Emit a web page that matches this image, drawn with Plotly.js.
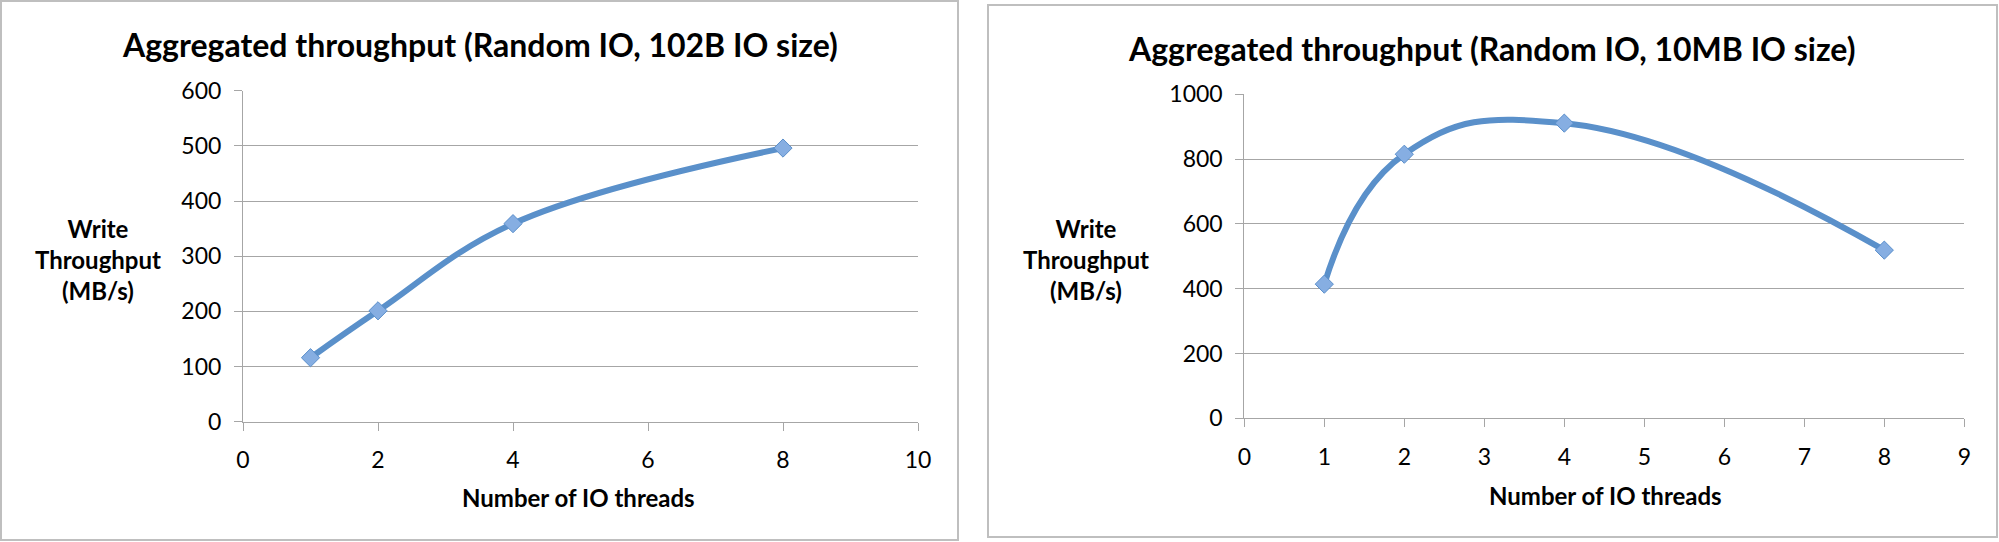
<!DOCTYPE html>
<html>
<head>
<meta charset="utf-8">
<script src="https://cdn.plot.ly/plotly-3.0.1.min.js"></script>
<style>html,body{margin:0;padding:0;background:#fff;}#chart{width:1999px;height:542px;}</style>
</head>
<body>
<div id="chart"></div>
<script>
// Chart 1: Random IO, 102B IO size
const threads1 = [1, 2, 4, 8];
const throughput1 = [116, 201, 359, 496];
// Chart 2: Random IO, 10MB IO size
const threads2 = [1, 2, 4, 8];
const throughput2 = [414, 815, 911, 519];

const title1 = 'Aggregated throughput (Random IO, 102B IO size)';
const title2 = 'Aggregated throughput (Random IO, 10MB IO size)';
const yTitle = 'Write<br>Throughput<br>(MB/s)';
const xTitle = 'Number of IO threads';

const W = 1999, H = 542;
const px = x => x / W;
const py = y => 1 - y / H;

const lineColor = '#5a90ca';
const markerStyle = {symbol: 'diamond', size: 14, color: '#86aee2', line: {color: '#5a8fcb', width: 1}};

const traces = [
  {x: threads1, y: throughput1, xaxis: 'x', yaxis: 'y', type: 'scatter', mode: 'lines+markers',
   line: {color: lineColor, width: 6, shape: 'spline', smoothing: 1.1}, marker: markerStyle},
  {x: threads2, y: throughput2, xaxis: 'x2', yaxis: 'y2', type: 'scatter', mode: 'lines+markers',
   line: {color: lineColor, width: 6, shape: 'spline', smoothing: 1.3}, marker: markerStyle}
];

const tickFont = {family: 'Lato, "Open Sans", sans-serif', size: 23, color: '#000'};
const axisCommon = {
  showline: true, linecolor: '#a6a6a6', linewidth: 1,
  ticks: 'outside', ticklen: 8, tickcolor: '#a6a6a6', tickwidth: 1,
  tickfont: tickFont, zeroline: false, fixedrange: true
};

const layout = {
  width: W, height: H,
  margin: {l: 0, r: 0, t: 0, b: 0},
  paper_bgcolor: '#fff', plot_bgcolor: 'rgba(0,0,0,0)',
  showlegend: false,
  xaxis: Object.assign({}, axisCommon, {domain: [px(243), px(918)], range: [0, 10], dtick: 2, tick0: 0,
    showgrid: false, anchor: 'y', ticklabelstandoff: 10}),
  yaxis: Object.assign({}, axisCommon, {domain: [py(421.7), py(90.7)], range: [0, 600], dtick: 100, tick0: 0,
    showgrid: true, gridcolor: '#a6a6a6', gridwidth: 1, anchor: 'x', ticklabelstandoff: 8}),
  xaxis2: Object.assign({}, axisCommon, {domain: [px(1244.3), px(1964.3)], range: [0, 9], dtick: 1, tick0: 0,
    showgrid: false, anchor: 'y2', ticklabelstandoff: 10}),
  yaxis2: Object.assign({}, axisCommon, {domain: [py(418.3), py(94.3)], range: [0, 1000], dtick: 200, tick0: 0,
    showgrid: true, gridcolor: '#a6a6a6', gridwidth: 1, anchor: 'x2', ticklabelstandoff: 8}),
  shapes: [
    {type: 'rect', xref: 'paper', yref: 'paper', x0: px(1), x1: px(958), y0: py(540), y1: py(1),
     line: {color: '#bfbfbf', width: 2}, fillcolor: 'rgba(0,0,0,0)'},
    {type: 'rect', xref: 'paper', yref: 'paper', x0: px(988), x1: px(1997), y0: py(537), y1: py(5),
     line: {color: '#bfbfbf', width: 2}, fillcolor: 'rgba(0,0,0,0)'}
  ],
  annotations: [
    {text: '<b>' + title1 + '</b>', xref: 'paper', yref: 'paper', x: px(480), y: py(45), showarrow: false,
     xanchor: 'center', yanchor: 'middle', font: {family: 'Lato, sans-serif', size: 32, color: '#000'}},
    {text: '<b>' + title2 + '</b>', xref: 'paper', yref: 'paper', x: px(1492), y: py(48), showarrow: false,
     xanchor: 'center', yanchor: 'middle', font: {family: 'Lato, sans-serif', size: 32, color: '#000'}},
    {text: '<b>' + yTitle + '</b>', xref: 'paper', yref: 'paper', x: px(98), y: py(259), showarrow: false,
     xanchor: 'center', yanchor: 'middle', align: 'center', font: {family: 'Lato, sans-serif', size: 24, color: '#000'}},
    {text: '<b>' + yTitle + '</b>', xref: 'paper', yref: 'paper', x: px(1086), y: py(259), showarrow: false,
     xanchor: 'center', yanchor: 'middle', align: 'center', font: {family: 'Lato, sans-serif', size: 24, color: '#000'}},
    {text: '<b>' + xTitle + '</b>', xref: 'paper', yref: 'paper', x: px(578), y: py(497), showarrow: false,
     xanchor: 'center', yanchor: 'middle', font: {family: 'Lato, sans-serif', size: 24, color: '#000'}},
    {text: '<b>' + xTitle + '</b>', xref: 'paper', yref: 'paper', x: px(1605), y: py(495), showarrow: false,
     xanchor: 'center', yanchor: 'middle', font: {family: 'Lato, sans-serif', size: 24, color: '#000'}}
  ]
};

Plotly.newPlot('chart', traces, layout, {staticPlot: true, displayModeBar: false});
</script>
</body>
</html>
